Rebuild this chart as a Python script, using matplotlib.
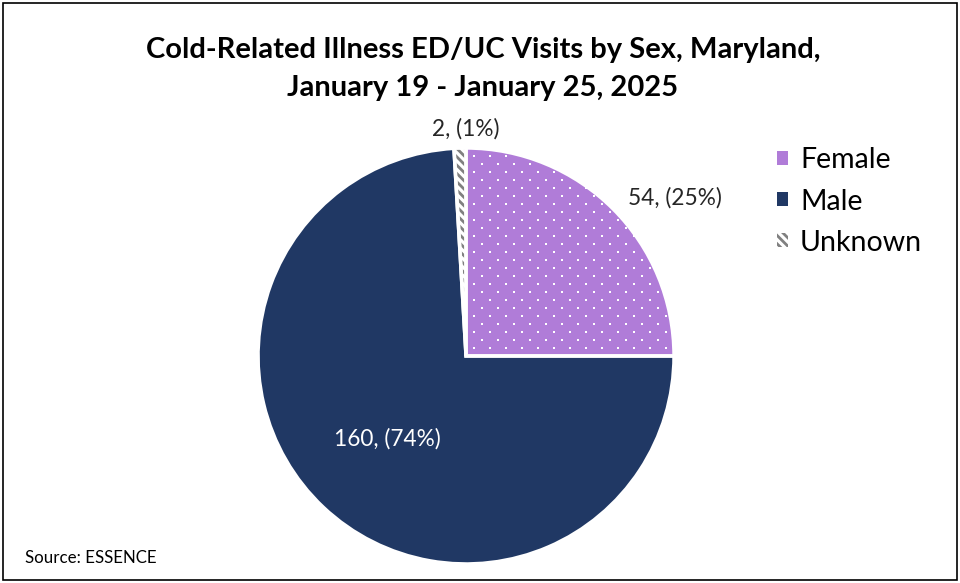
import numpy as np
import matplotlib
matplotlib.use('Agg')
import matplotlib.pyplot as plt
from matplotlib.patches import Rectangle

categories = ['Female', 'Male', 'Unknown']
counts = [54, 160, 2]
percents = ['25%', '74%', '1%']

colors = ['#B07CD8', '#203864', '#FFFFFF']
hatches = [None, None, '\\\\\\\\']
hatch_colors = ['#FFFFFF', '#203864', '#808080']

plt.rcParams['font.family'] = ['Lato', 'DejaVu Sans']
plt.rcParams['hatch.linewidth'] = 2.0

def main():
    fig = plt.figure(figsize=(9.6, 5.83), dpi=100)
    fig.patches.append(Rectangle((0.003, 0.005), 0.994, 0.99, transform=fig.transFigure,
                                 fill=False, edgecolor='black', linewidth=1.2))

    ax = fig.add_axes([0.2688, 0.0326, 0.4333, 0.7136])
    wedges, _ = ax.pie(counts, startangle=90, counterclock=False, colors=colors,
                       radius=1, wedgeprops=dict(linewidth=0))
    for w, h, hc in zip(wedges, hatches, hatch_colors):
        if h:
            w.set_hatch(h)
            w.set_edgecolor(hc)
            w.set_linewidth(0)

    # dotted texture for the Female slice (staggered grid of small white squares)
    dx, dy = 16 / 208, 8 / 208
    pts = []
    for j, y in enumerate(np.arange(-1, 1, dy)):
        off = (dx / 2) * (j % 2)
        for x in np.arange(-1 + off, 1, dx):
            pts.append((x, y))
    pts = np.array(pts)
    dots = ax.scatter(pts[:, 0], pts[:, 1], marker='s', s=2.2, color='white', linewidths=0)
    dots.set_clip_path(wedges[0])

    ax.pie(counts, startangle=90, counterclock=False, radius=1,
           wedgeprops=dict(fill=False, edgecolor='white', linewidth=2.5))
    ax.set_xlim(-1, 1)
    ax.set_ylim(-1, 1)
    ax.set_aspect('equal')

    # label positions (radius multiple, angle shift in degrees)
    dist = [1.26, 0.55, 1.09]
    shift = [-8, 0, -1.5]
    lcolors = ['#262626', 'white', '#262626']
    for w, n, p, d, s, c in zip(wedges, counts, percents, dist, shift, lcolors):
        ang = np.deg2rad((w.theta1 + w.theta2) / 2 + s)
        ax.text(d * np.cos(ang), d * np.sin(ang), f'{n}, ({p})', ha='center', va='center',
                fontsize=16.3, color=c)

    handles = [Rectangle((0, 0), 1, 1, facecolor=fc, hatch=h, edgecolor=hc, linewidth=0)
               for fc, h, hc in zip(colors, hatches, hatch_colors)]
    fig.legend(handles, categories, loc='upper left', bbox_to_anchor=(0.783, 0.791),
               frameon=False, fontsize=20.5, handlelength=0.38, handleheight=0.38,
               handletextpad=0.42, labelspacing=0.53)

    fig.text(0.503, 0.915, 'Cold-Related Illness ED/UC Visits by Sex, Maryland,',
             ha='center', va='center', fontsize=21, fontweight='bold', color='black')
    fig.text(0.503, 0.849, 'January 19 - January 25, 2025',
             ha='center', va='center', fontsize=21, fontweight='bold', color='black')
    fig.text(0.026, 0.043, 'Source: ESSENCE', ha='left', va='center', fontsize=12.2)

    fig.savefig('out.png', dpi=100)

if __name__ == '__main__':
    main()
